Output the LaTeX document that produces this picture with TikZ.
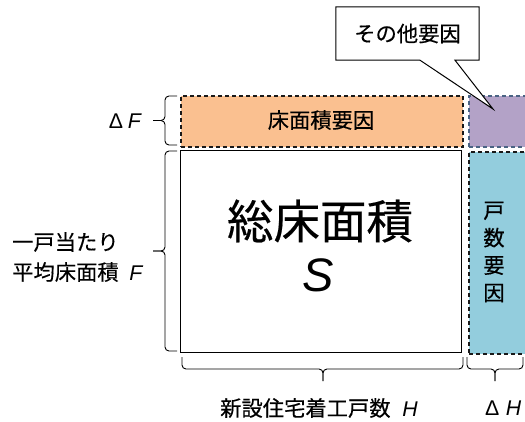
\documentclass[tikz,border=0pt]{standalone}
\usepackage{fontspec}
\setmainfont{Noto Sans CJK JP}[FakeBold=0.35]
\newfontfamily\lat{Liberation Sans}
\usetikzlibrary{calc}
\definecolor{orangefill}{HTML}{FAC090}
\definecolor{purplefill}{HTML}{B3A2C7}
\definecolor{bluefill}{HTML}{93CDDD}
\definecolor{purpleline}{HTML}{4A6384}
\tikzset{
  box/.style={inner sep=0pt, anchor=north west},
  dashbox/.style={box, draw=black!90, line width=1.5pt, dash pattern=on 4pt off 3pt},
  brc/.style={draw=black, line width=0.9pt, rounded corners=4pt},
  lbl/.style={inner sep=0pt, font=\fontsize{21.3}{30}\selectfont},
}
\begin{document}
\begin{tikzpicture}[x=1pt,y=-1pt]
\useasboundingbox (0,0) rectangle (525,421);
\fill[white] (0,0) rectangle (525,421);
\clip (0,0) rectangle (525,421);

% rectangles
\node[dashbox, fill=orangefill, minimum width=282pt, minimum height=51pt] (floor) at (180,95) {};
\node[dashbox, fill=purplefill, draw=purpleline, minimum width=70pt, minimum height=51pt] (other) at (468,95) {};
\node[box, draw=black, line width=1pt, minimum width=281pt, minimum height=202pt] (total) at (180,150) {};
\node[dashbox, fill=bluefill, minimum width=70pt, minimum height=202pt] (houses) at (468,151) {};

% texts in rectangles
\node[lbl] (floortext) at (321,120) {床面積要因};
\node[inner sep=0pt, font=\fontsize{46.5}{50}\selectfont] (totaltext) at (320,221) {総床面積};
\node[inner sep=0pt, font=\fontsize{47}{50}\selectfont\lat\itshape] (stext) at (318,275) {S};
\node[lbl, align=center, font=\fontsize{21.3}{27.5}\selectfont] (housestext) at (494,252) {戸\\数\\要\\因};

% callout
\node[inner sep=0pt, minimum width=143pt, minimum height=53pt] (callout) at (407.5,33.5) {};
\coordinate (tip) at (493,109);
\draw[fill=white, line width=1pt]
  (callout.north west) -- (callout.north east) -- (callout.south east)
  -- ($(callout.south)+(47.5,0)$) -- (tip) -- ($(callout.south)+(12.5,0)$)
  -- (callout.south west) -- cycle;
\node[lbl] (calltext) at (callout.center) {その他要因};

% left braces
\draw[brc] (177,96) -- (165,96) -- (165,120.5) -- (153,120.5);
\draw[brc] (177,145) -- (165,145) -- (165,120.5) -- (153,120.5);
\draw[brc] (177,151) -- (165,151) -- (165,251) -- (153,251);
\draw[brc] (177,351) -- (165,351) -- (165,251) -- (153,251);
% bottom braces
\draw[brc] (182,357) -- (182,369) -- (323,369) -- (323,381);
\draw[brc] (463,357) -- (463,369) -- (323,369) -- (323,381);
\draw[brc] (467,357) -- (467,369) -- (495,369) -- (495,381);
\draw[brc] (523,357) -- (523,369) -- (495,369) -- (495,381);

% outer labels
\node[lbl, anchor=east] (dF) at (141,121) {{\lat Δ} {\lat\itshape F}};
\node[lbl, anchor=west, align=left] (Flabel) at (12,257) {一戸当たり\\平均床面積\hspace{0.5em}{\lat\itshape F}};
\node[lbl, anchor=west] (Hlabel) at (220,408) {新設住宅着工戸数\hspace{0.55em}{\lat\itshape H}};
\node[lbl, anchor=west] (dH) at (485,408) {{\lat Δ}\hspace{0.3em}{\lat\itshape H}};
\end{tikzpicture}
\end{document}
